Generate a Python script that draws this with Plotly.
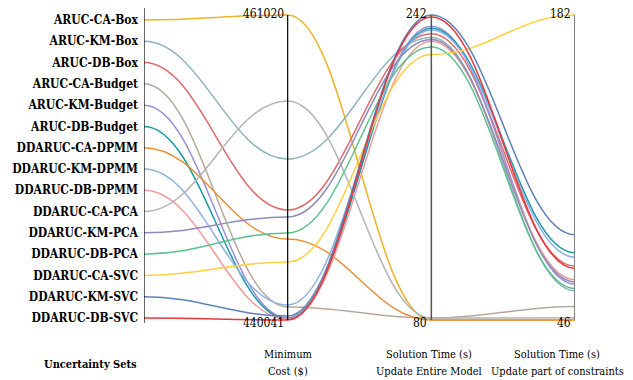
import plotly.graph_objects as go

# ---------------- data ----------------
categories = [
    "ARUC-CA-Box", "ARUC-KM-Box", "ARUC-DB-Box",
    "ARUC-CA-Budget", "ARUC-KM-Budget", "ARUC-DB-Budget",
    "DDARUC-CA-DPMM", "DDARUC-KM-DPMM", "DDARUC-DB-DPMM",
    "DDARUC-CA-PCA", "DDARUC-KM-PCA", "DDARUC-DB-PCA",
    "DDARUC-CA-SVC", "DDARUC-KM-SVC", "DDARUC-DB-SVC",
]
min_cost = [461020, 451115, 447607, 440935, 440179, 440110,
            445612, 441073, 440098, 455104, 447125, 446025,
            444030, 440316, 440041]
time_entire = [80, 230, 232, 81, 236, 235,
               80, 234, 228, 81, 229, 225,
               221, 242, 241]
time_part = [46, 59, 70, 52, 62, 76,
             46, 74, 64, 47, 63, 60,
             182, 84, 69]
colors = ["#EDB32A", "#8FB4BE", "#E06A6A", "#B8A89C", "#9A8FD6", "#1E9AAA",
          "#E8903C", "#8DB3E2", "#F39A9A", "#B3B3B3", "#8C8CB8", "#5CC28D",
          "#FFD043", "#5E82B5", "#E8383D"]

axis_titles = [["<b>Uncertainty Sets</b>"], ["Minimum", "Cost ($)"],
               ["Solution Time (s)", "Update Entire Model"],
               ["Solution Time (s)", "Update part of constraints"]]

SERIF = "DejaVu Serif Condensed"

# ---------------- geometry helpers ----------------
PX_LEFT, PX_RIGHT = 144, 575
PLOT_TOP, PLOT_BOT = 0, 330           # pixel rows of plot area
Y_MAX_PX, Y_MIN_PX = 15, 320          # numeric axes extents
SPAN = Y_MIN_PX - Y_MAX_PX
n_cat = len(categories)
SMOOTH = 0.4


def pyn(py):
    return (Y_MIN_PX - py) / SPAN


def cat_norm(i):
    return pyn(20 + i * 298 / (n_cat - 1))


def norm(v, lo, hi):
    return (v - lo) / (hi - lo)


c_lo, c_hi = min(min_cost), max(min_cost)
t1_lo, t1_hi = min(time_entire), max(time_entire)
t2_lo, t2_hi = min(time_part), max(time_part)

shapes = []
for i, name in enumerate(categories):
    ys = [cat_norm(i), norm(min_cost[i], c_lo, c_hi),
          norm(time_entire[i], t1_lo, t1_hi), norm(time_part[i], t2_lo, t2_hi)]
    path = "M 0,%.5f" % ys[0]
    for k in range(1, 4):
        x0, x1 = k - 1, k
        path += " C %.3f,%.5f %.3f,%.5f %d,%.5f" % (
            x0 + SMOOTH, ys[k - 1], x1 - SMOOTH, ys[k], x1, ys[k])
    shapes.append(dict(type="path", path=path, xref="x", yref="y", layer="above",
                       line=dict(color=colors[i], width=1.5), name=name))

axis_lines = [
    (0, 323, 8, "black", 1.2),
    (1, 320, 15, "black", 1.2),
    (2, 320, 15, "#555555", 1.5),
    (3, 320, 15, "#808080", 2),
]
for xi, yb, yt, col, w in axis_lines:
    shapes.append(dict(type="line", x0=xi, x1=xi, y0=pyn(yb), y1=pyn(yt),
                       xref="x", yref="y", layer="above",
                       line=dict(color=col, width=w)))

font_num = dict(family=SERIF, size=12, color="black")
annotations = []
tick_pairs = [(1, c_hi, c_lo), (2, t1_hi, t1_lo), (3, t2_hi, t2_lo)]
for xi, hi, lo in tick_pairs:
    annotations.append(dict(x=xi, y=pyn(14), xref="x", yref="y", text=str(hi),
                            xanchor="right", yanchor="middle", showarrow=False,
                            font=font_num, xshift=-2))
    annotations.append(dict(x=xi, y=pyn(323), xref="x", yref="y", text=str(lo),
                            xanchor="right", yanchor="middle", showarrow=False,
                            font=font_num, xshift=-2))

W = PX_RIGHT - PX_LEFT
H = PLOT_BOT - PLOT_TOP
title_x = [90, 288, 429, 557]
for lines, px in zip(axis_titles, title_x):
    rows = [364] if len(lines) == 1 else [354, 371]
    for t, py in zip(lines, rows):
        annotations.append(dict(x=(px - PX_LEFT) / W, y=(PLOT_BOT - py) / H,
                                xref="paper", yref="paper", text=t, showarrow=False,
                                xanchor="center", yanchor="middle", align="center",
                                font=dict(family=SERIF, size=11, color="black")))

fig = go.Figure()
fig.update_layout(
    width=633, height=380,
    font=dict(family=SERIF),
    margin=dict(l=PX_LEFT, r=633 - PX_RIGHT, t=PLOT_TOP, b=380 - PLOT_BOT, pad=0,
                autoexpand=False),
    paper_bgcolor="white", plot_bgcolor="white",
    xaxis=dict(range=[0, 3], visible=False, fixedrange=True),
    yaxis=dict(range=[pyn(PLOT_BOT), pyn(PLOT_TOP)], showgrid=False, zeroline=False,
               showline=False, ticks="", fixedrange=True,
               tickvals=[cat_norm(i) for i in range(n_cat)],
               ticktext=["<b>%s</b>" % c for c in categories],
               tickfont=dict(family=SERIF, size=12, color="black"),
               ticklabelstandoff=5),
    shapes=shapes, annotations=annotations,
)

fig.write_html("out.html", config={"displayModeBar": False},
               post_script="document.body.style.margin='0';")
